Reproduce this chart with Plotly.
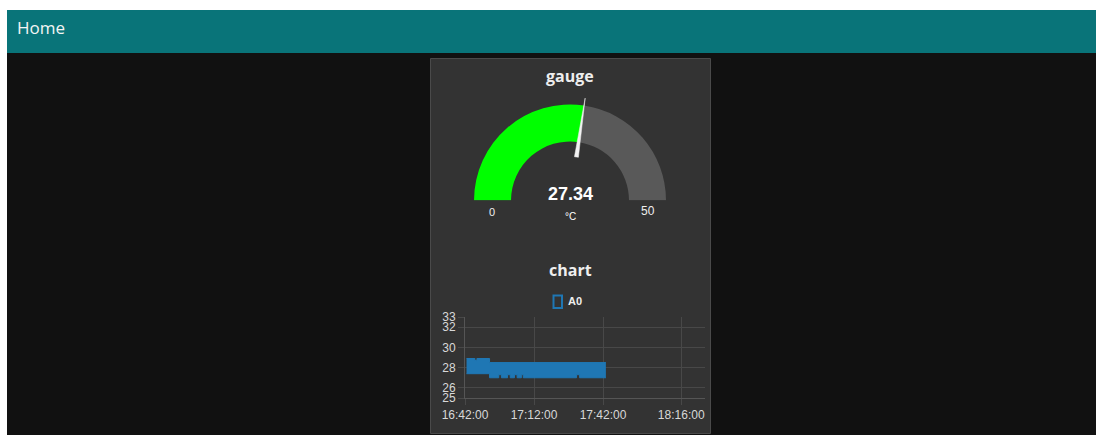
import plotly.graph_objects as go

# ---------------- data ----------------
page_title = "Home"
gauge_title = "gauge"
gauge_value = 27.34
gauge_min = 0
gauge_max = 50
gauge_units = "°C"

chart_title = "chart"
series_name = "A0"
day = "2024-01-01"
# envelope of the (very dense) A0 line
upper_times = ["16:42:40", "16:46:20", "16:47:10", "16:52:40", "17:43:15"]
upper_vals = [28.9, 28.7, 28.9, 28.5, 28.5]
lower_times = ["16:42:40", "16:52:40", "16:56:40", "16:57:50", "17:00:30", "17:01:40",
               "17:03:30", "17:04:40", "17:06:30", "17:07:20", "17:30:30", "17:31:50", "17:43:15"]
lower_vals = [27.4, 27.0, 27.3, 27.0, 27.3, 27.0, 27.3, 27.0, 27.3, 27.0, 27.3, 27.0, 27.0]
y_ticks = [25, 26, 28, 30, 32, 33]
x_ticks = ["16:42:00", "17:12:00", "17:42:00", "18:16:00"]
x_range = ["16:42:00", "18:26:20"]

# ---------------- layout helpers ----------------
W, H = 1096, 435
def fx(x): return x / W
def fy(y): return 1 - y / H

TITLE_FONT = "Open Sans"
TICK_FONT = "Liberation Sans, Arial"
BLUE = "#1f77b4"

fig = go.Figure()

# ---------------- gauge (polar) ----------------
span = gauge_max - gauge_min
ang = (gauge_value - gauge_min) / span * 180.0
r_in, r_out = 59, 96
fig.add_trace(go.Barpolar(
    r=[r_out - r_in, r_out - r_in], base=[r_in, r_in],
    theta=[ang / 2, (ang + 180) / 2], width=[ang, 180 - ang],
    marker=dict(color=["#00ff00", "#595959"], line=dict(width=0)),
    showlegend=False, hoverinfo="skip", subplot="polar"))
fig.add_trace(go.Scatterpolar(
    r=[44, 103.5, 44, 44], theta=[ang - 2.6, ang, ang + 2.6, ang - 2.6],
    mode="lines", fill="toself", fillcolor="#f2f2f2",
    line=dict(color="#f2f2f2", width=0.5),
    showlegend=False, hoverinfo="skip", subplot="polar"))

# ---------------- chart ----------------
fig.add_trace(go.Scatter(
    x=[f"{day} {t}" for t in lower_times], y=lower_vals, mode="lines",
    line=dict(color=BLUE, width=1, shape="hv"), showlegend=False, hoverinfo="skip"))
fig.add_trace(go.Scatter(
    x=[f"{day} {t}" for t in upper_times], y=upper_vals, mode="lines",
    line=dict(color=BLUE, width=1, shape="hv"), fill="tonexty", fillcolor=BLUE,
    name=series_name, showlegend=False, hoverinfo="skip"))

GRID = "#484848"
fig.update_layout(
    width=W, height=H, autosize=False, margin=dict(l=0, r=0, t=0, b=0, pad=0),
    paper_bgcolor="#ffffff", plot_bgcolor="rgba(0,0,0,0)",
    showlegend=False,
    polar=dict(
        domain=dict(x=[fx(466), fx(674)], y=[fy(200.5), fy(96.5)]),
        sector=[0, 180], hole=0, bgcolor="rgba(0,0,0,0)",
        radialaxis=dict(range=[0, 104], visible=False),
        angularaxis=dict(rotation=180, direction="clockwise", thetaunit="degrees", visible=False),
    ),
    xaxis=dict(
        domain=[fx(465), fx(705)], type="date", automargin=False,
        range=[f"{day} {x_range[0]}", f"{day} {x_range[1]}"],
        tickvals=[f"{day} {t}" for t in x_ticks], ticktext=x_ticks,
        showgrid=True, gridcolor=GRID, gridwidth=1,
        ticks="outside", ticklen=6, tickcolor=GRID,
        showline=True, linecolor="#555555", zeroline=False,
        tickfont=dict(family=TICK_FONT, size=12, color="#d8d8d8"),
    ),
    yaxis=dict(
        domain=[fy(398), fy(317)], range=[25, 33], automargin=False,
        tickvals=y_ticks, ticktext=[str(v) for v in y_ticks],
        showgrid=True, gridcolor=GRID, gridwidth=1,
        ticks="outside", ticklen=6, tickcolor=GRID,
        showline=True, linecolor="#555555", zeroline=False,
        tickfont=dict(family=TICK_FONT, size=12, color="#d8d8d8"),
    ),
)

# ---------------- page chrome ----------------
shapes = [
    dict(type="rect", xref="paper", yref="paper", x0=fx(7), x1=1, y0=0, y1=fy(52),
         fillcolor="#111111", line=dict(width=0), layer="below"),
    dict(type="rect", xref="paper", yref="paper", x0=fx(7), x1=1, y0=fy(53), y1=fy(10),
         fillcolor="#097479", line=dict(width=0), layer="below"),
    dict(type="rect", xref="paper", yref="paper", x0=fx(430.5), x1=fx(710.5), y0=fy(433.5), y1=fy(58.5),
         fillcolor="#333333", line=dict(color="#4a4a4a", width=1), layer="below"),
    # legend swatch
    dict(type="rect", xref="paper", yref="paper", x0=fx(553.5), x1=fx(562), y0=fy(308), y1=fy(295.5),
         fillcolor="rgba(0,0,0,0)", line=dict(color=BLUE, width=2), layer="above"),
]
fig.update_layout(shapes=shapes)

def ann(x, y, text, size, color="#eeeeee", family=TITLE_FONT, bold=False, xanchor="center"):
    t = f"<b>{text}</b>" if bold else text
    fig.add_annotation(x=fx(x), y=fy(y), xref="paper", yref="paper", text=t, showarrow=False,
                       xanchor=xanchor, yanchor="middle",
                       font=dict(family=family, size=size, color=color))

ann(15, 27, page_title, 17, color="#f4f4f4", xanchor="left")
ann(570, 76, gauge_title, 16, bold=True)
ann(570, 194, f"{gauge_value:.2f}", 18, color="#ffffff", family="Liberation Sans, Arial", bold=True)
ann(570, 216, gauge_units, 10, color="#ffffff", family="Liberation Sans, Arial")
ann(492, 212, str(gauge_min), 11, color="#eeeeee", family="Liberation Sans, Arial")
ann(648, 211, str(gauge_max), 12, color="#eeeeee", family="Liberation Sans, Arial")
ann(570, 270, chart_title, 16, bold=True)
ann(566, 301, series_name, 11, color="#eeeeee", family="Liberation Sans, Arial", bold=True, xanchor="left")

fig.write_html("out.html", config={"displayModeBar": False},
               post_script="document.body.style.margin='0';document.body.style.overflow='hidden';")
